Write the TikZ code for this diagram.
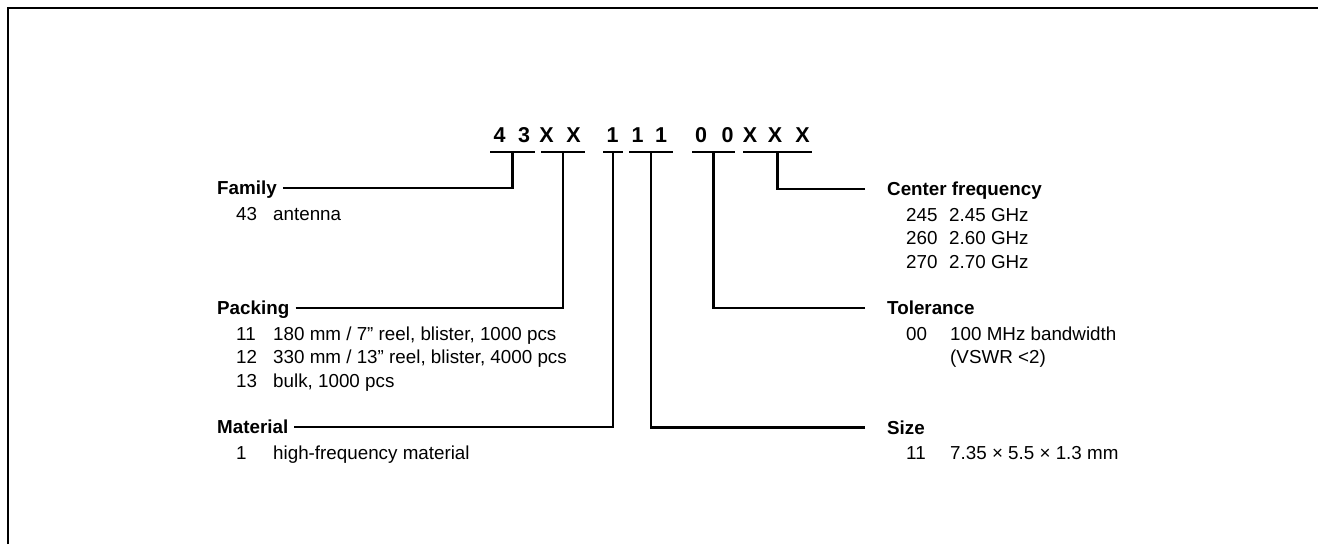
\documentclass[tikz,border=0pt]{standalone}
\usepackage{fontspec}
\setmainfont{Liberation Sans}
\begin{document}
\begin{tikzpicture}[x=1pt,y=-1pt,
  conn/.style={line width=2.1pt},
  frame/.style={line width=2.6pt},
  codech/.style={font=\fontsize{21.5}{25}\selectfont\bfseries, anchor=base, inner sep=0pt},
  lbl/.style={font=\fontsize{18.8}{22}\selectfont\bfseries, anchor=west, inner sep=0pt, text height=13pt, text depth=0pt},
  item/.style={font=\fontsize{18.8}{22}\selectfont, anchor=base west, inner sep=0pt}]
\useasboundingbox (0,0) rectangle (1318,544);
\draw[frame] (7.8,544) -- (7.8,7.8) -- (1318,7.8);

% code characters
\node[codech] (c1) at (499.5,142.3) {4};
\node[codech] (c2) at (524,142.3) {3};
\node[codech] (c3) at (546.5,142.3) {X};
\node[codech] (c4) at (573.5,142.3) {X};
\node[codech] (c5) at (612.5,142.3) {1};
\node[codech] (c6) at (637.5,142.3) {1};
\node[codech] (c7) at (661,142.3) {1};
\node[codech] (c8) at (701,142.3) {0};
\node[codech] (c9) at (727.5,142.3) {0};
\node[codech] (c10) at (750,142.3) {X};
\node[codech] (c11) at (775,142.3) {X};
\node[codech] (c12) at (802.5,142.3) {X};

% underlines
\coordinate (u1l) at (490,152);   \coordinate (u1r) at (535,152);   \coordinate (g1) at (512.5,152);
\coordinate (u2l) at (541,152);   \coordinate (u2r) at (585,152);   \coordinate (g2) at (563,152);
\coordinate (u3l) at (603,152);   \coordinate (u3r) at (623,152);   \coordinate (g3) at (613,152);
\coordinate (u4l) at (629,152);   \coordinate (u4r) at (673,152);   \coordinate (g4) at (651,152);
\coordinate (u5l) at (692,152);   \coordinate (u5r) at (735,152);   \coordinate (g5) at (713.5,152);
\coordinate (u6l) at (743,152);   \coordinate (u6r) at (812,152);   \coordinate (g6) at (777.5,152);
\foreach \i in {1,...,6} {\draw[conn] (u\i l) -- (u\i r);}

% left labels
\node[lbl] (fam) at (217,188) {Family};
\node[item] (famn1) at (236,220) {43};
\node[item] (famt1) at (273,220) {antenna};

\node[lbl] (pack) at (217,308) {Packing};
\node[item] (packn1) at (236,340) {11};
\node[item] (packt1) at (273,340) {180 mm / 7” reel, blister, 1000 pcs};
\node[item] (packn2) at (236,363.5) {12};
\node[item] (packt2) at (273,363.5) {330 mm / 13” reel, blister, 4000 pcs};
\node[item] (packn3) at (236,387) {13};
\node[item] (packt3) at (273,387) {bulk, 1000 pcs};

\node[lbl] (mat) at (217,427) {Material};
\node[item] (matn1) at (236,459) {1};
\node[item] (matt1) at (273,459) {high-frequency material};

% right labels
\node[lbl] (cf) at (887,189) {Center frequency};
\node[item] (cfn1) at (906,221) {245};
\node[item] (cft1) at (949,221) {2.45 GHz};
\node[item] (cfn2) at (906,244.5) {260};
\node[item] (cft2) at (949,244.5) {2.60 GHz};
\node[item] (cfn3) at (906,268) {270};
\node[item] (cft3) at (949,268) {2.70 GHz};

\node[lbl] (tol) at (887,308) {Tolerance};
\node[item] (toln1) at (906,340) {00};
\node[item] (tolt1) at (950,340) {100 MHz bandwidth};
\node[item] (tolt2) at (950,363.5) {(VSWR <2)};

\node[lbl] (size) at (887,427.5) {Size};
\node[item] (sizen1) at (906,459.5) {11};
\node[item] (sizet1) at (950,459.5) {7.35 × 5.5 × 1.3 mm};

% connectors
\draw[conn] ([xshift=6pt]fam.east) -| (g1);
\draw[conn] ([xshift=6pt]pack.east) -| (g2);
\draw[conn] ([xshift=6pt]mat.east) -| (g3);
\draw[conn] ([xshift=-22pt]size.west) -| (g4);
\draw[conn] ([xshift=-22pt]tol.west) -| (g5);
\draw[conn] ([xshift=-22pt]cf.west) -| (g6);
\end{tikzpicture}
\end{document}
